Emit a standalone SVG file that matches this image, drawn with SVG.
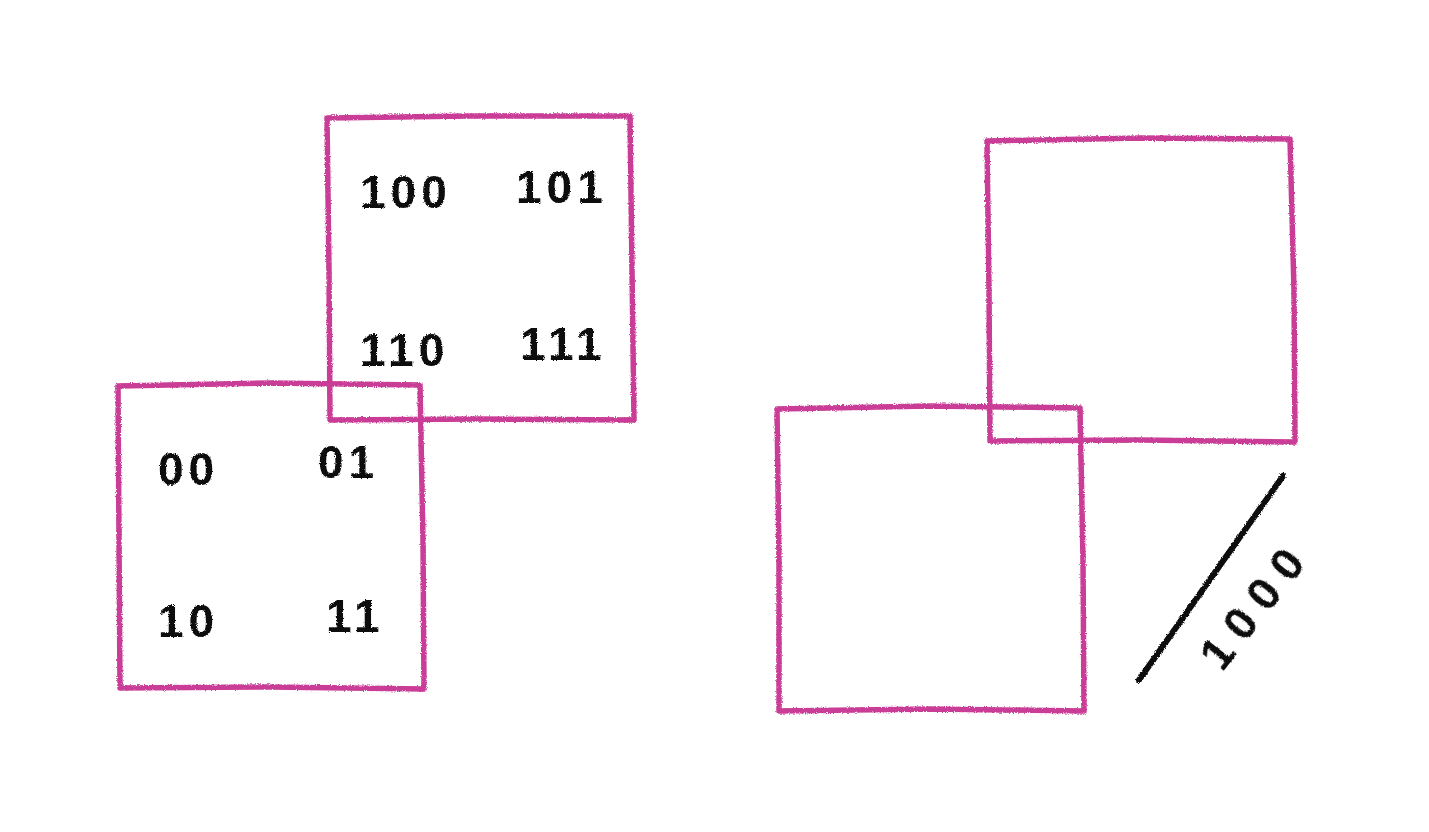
<svg xmlns="http://www.w3.org/2000/svg" width="1429" height="832" viewBox="0 0 1429 832">
<defs>
<filter id="rough" x="-5%" y="-5%" width="110%" height="110%">
<feTurbulence type="fractalNoise" baseFrequency="0.9" numOctaves="2" seed="3" result="n"/>
<feDisplacementMap in="SourceGraphic" in2="n" scale="3" xChannelSelector="R" yChannelSelector="G"/>
</filter>
</defs>
<style>
.box{fill:none;stroke:#c93d96;stroke-width:5.5;stroke-linejoin:round;stroke-linecap:round;filter:url(#rough)}
.lbl{font-family:"Liberation Sans",Arial,sans-serif;font-size:46px;font-weight:bold;fill:#111111;letter-spacing:5px;filter:url(#rough)}
.ln{fill:none;stroke:#111111;stroke-width:6;stroke-linecap:round;filter:url(#rough)}
</style>
<rect width="1429" height="832" fill="#ffffff"/>
<g id="box-top-left">
<path class="box" d="M327,118 L470,116 L630,116 L632,270 L634,420 L480,419 L330,420 L329,270 Z"/>
<text class="lbl" x="360" y="208">100</text>
<text class="lbl" x="516" y="203">101</text>
<text class="lbl" x="360" y="366">110</text>
<text class="lbl" x="520" y="360">111</text>
</g>
<g id="box-bottom-left">
<path class="box" d="M118,386 L270,383 L420,385 L423,540 L424,689 L270,687 L120,688 L119,540 Z"/>
<text class="lbl" x="158" y="485">00</text>
<text class="lbl" x="318" y="478">01</text>
<text class="lbl" x="158" y="637">10</text>
<text class="lbl" x="326" y="632">11</text>
</g>
<g id="box-top-right">
<path class="box" d="M987,141 L1140,138 L1290,139 L1294,290 L1295,442 L1140,440 L990,441 L989,290 Z"/>
</g>
<g id="box-bottom-right">
<path class="box" d="M777,409 L930,406 L1080,408 L1083,560 L1084,711 L930,709 L779,711 L779,560 Z"/>
</g>
<g id="connectors">
<path class="ln" d="M1139,680 L1283,476"/>
<text class="lbl" x="1222" y="673" transform="rotate(-52 1222 673)" style="letter-spacing:12px">1000</text>
</g>
</svg>
